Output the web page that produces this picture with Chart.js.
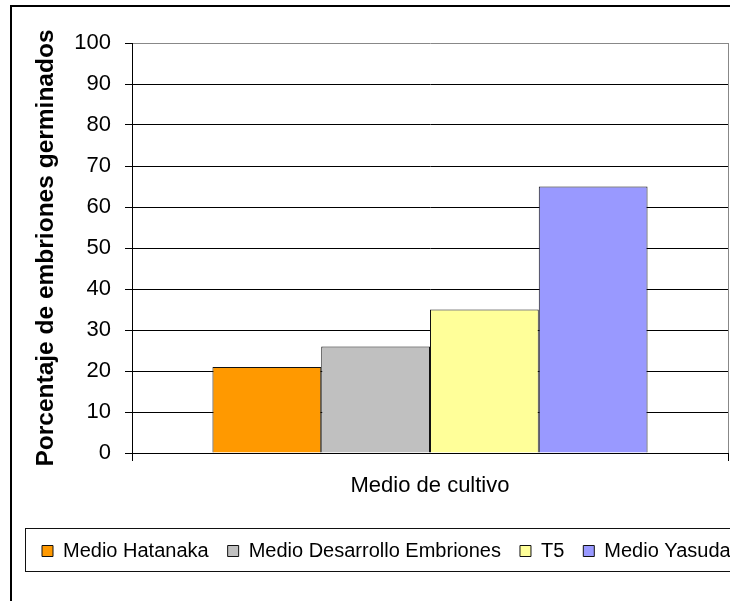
<!DOCTYPE html>
<html lang="es">
<head>
  <meta charset="UTF-8">
  <title>Germinación de embriones</title>
  <script src="https://cdn.jsdelivr.net/npm/chart.js"></script>
  <style>
    body {
      margin: 0;
      padding: 0;
      background: #fff;
      overflow: hidden;
    }
    #wrap {
      width: 730px;
      height: 601px;
      overflow: hidden;
    }
  </style>
</head>
<body>
  <div id="wrap">
    <canvas id="chart" width="1000" height="601"></canvas>
  </div>

  <script>
    // Data
    const categories = ['Medio de cultivo'];
    const seriesNames = ['Medio Hatanaka', 'Medio Desarrollo Embriones', 'T5', 'Medio Yasuda'];
    const seriesValues = [[21], [26], [35], [65]];
    const seriesColors = ['#FF9900', '#C0C0C0', '#FFFF99', '#9999FF'];
    const yTicks = [0, 10, 20, 30, 40, 50, 60, 70, 80, 90, 100];

    const FONT = '"Liberation Sans", Arial, sans-serif';

    // frame around the whole chart, gray right edge of plot, box around legend
    const frames = {
      id: 'frames',
      beforeDraw(chart) {
        const ctx = chart.ctx;
        ctx.save();
        ctx.fillStyle = '#fff';
        ctx.fillRect(0, 0, chart.width, chart.height);
        ctx.strokeStyle = '#000';
        ctx.lineWidth = 2;
        ctx.strokeRect(11, 6, chart.width + 20, chart.height + 20);
        ctx.restore();
      },
      afterDraw(chart) {
        const ctx = chart.ctx;
        const a = chart.chartArea;
        ctx.save();
        ctx.strokeStyle = '#888';
        ctx.lineWidth = 1;
        ctx.beginPath();
        ctx.moveTo(a.right + 0.5, a.top);
        ctx.lineTo(a.right + 0.5, a.bottom);
        ctx.stroke();
        ctx.strokeStyle = '#111';
        ctx.strokeRect(25.5, 528.5, chart.width, 43);
        ctx.restore();
      }
    };

    const datasets = seriesNames.map((name, i) => ({
      label: name,
      data: seriesValues[i],
      backgroundColor: seriesColors[i],
      borderColor: '#111',
      borderWidth: 1,
      categoryPercentage: 0.73,
      barPercentage: 1.0
    }));

    new Chart(document.getElementById('chart'), {
      type: 'bar',
      data: { labels: categories, datasets: datasets },
      plugins: [frames],
      options: {
        responsive: false,
        animation: false,
        devicePixelRatio: 1,
        layout: { padding: { left: 23, right: 0, top: 43, bottom: 30 } },
        plugins: {
          tooltip: { enabled: false },
          legend: {
            position: 'bottom',
            align: 'start',
            labels: {
              boxWidth: 11,
              boxHeight: 11,
              padding: 19,
              color: '#000',
              font: { family: FONT, size: 20 }
            }
          }
        },
        scales: {
          x: {
            offset: true,
            grid: {
              offset: true,
              drawOnChartArea: false,
              drawTicks: true,
              tickLength: 8,
              color: '#000'
            },
            border: { display: true, color: '#000', width: 1 },
            ticks: {
              color: '#000',
              padding: 12,
              font: { family: FONT, size: 22 }
            },
            afterFit(scale) { scale.height = 69; }
          },
          y: {
            min: 0,
            max: 100,
            afterBuildTicks(scale) {
              scale.ticks = yTicks.map(v => ({ value: v }));
            },
            grid: {
              color: ctx => (ctx.tick && ctx.tick.value === 100 ? '#888' : '#000'),
              tickColor: '#000',
              tickLength: 7,
              lineWidth: 1
            },
            border: { display: true, color: '#000', width: 1 },
            ticks: {
              color: '#000',
              padding: 14,
              font: { family: FONT, size: 22 }
            },
            title: {
              display: true,
              text: 'Porcentaje de embriones germinados',
              color: '#000',
              padding: { top: 9, bottom: 0 },
              font: { family: FONT, size: 24.5, weight: 'bold' }
            },
            afterFit(scale) { scale.width = 109; }
          },
          // empty right-hand scale that reserves the space right of the plot
          spacer: {
            type: 'linear',
            position: 'right',
            grid: { display: false },
            border: { display: false },
            ticks: { display: false },
            afterFit(scale) { scale.width = 1000 - 728; }
          }
        }
      }
    });
  </script>
</body>
</html>
